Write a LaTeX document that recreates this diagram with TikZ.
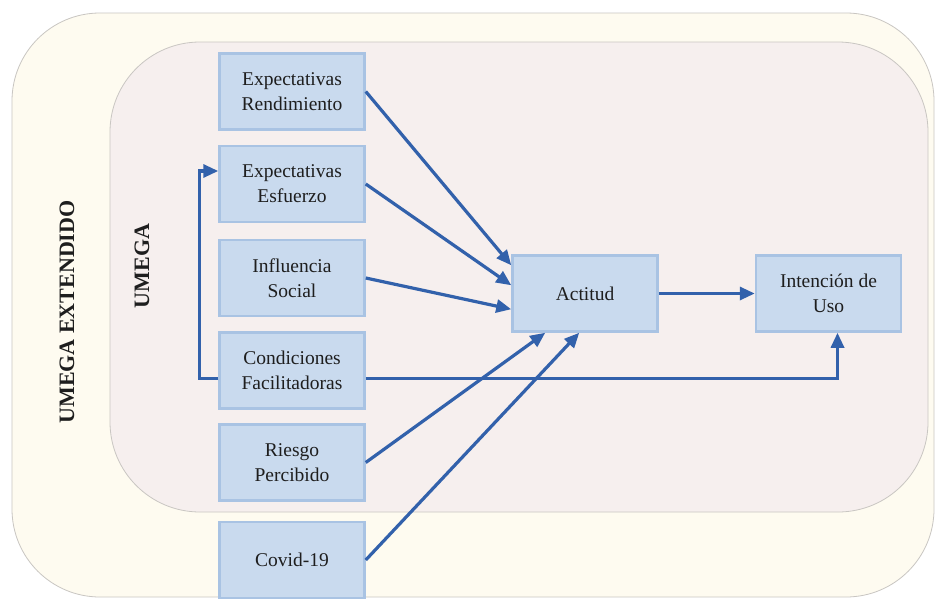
\documentclass[tikz,border=0pt]{standalone}
\usepackage{fontspec}
\setmainfont{Liberation Serif}
\usetikzlibrary{arrows.meta,calc}
\definecolor{outerfill}{HTML}{FEFBF0}
\definecolor{innerfill}{HTML}{F6EFEE}
\definecolor{frame}{HTML}{C9C6C2}
\definecolor{boxfill}{HTML}{C9DAEE}
\definecolor{boxline}{HTML}{A9C3E3}
\definecolor{arrowblue}{HTML}{3261AB}
\definecolor{txt}{HTML}{1E1E1E}
\tikzset{
  varbox/.style={draw=boxline, line width=2.5pt, fill=boxfill, text=txt,
    font=\fontsize{19.5}{25}\selectfont, align=center, inner sep=0pt,
    minimum width=145pt, minimum height=76pt},
  conn/.style={draw=arrowblue, line width=3.2pt,
    -{Triangle[length=15pt,width=13pt]}},
  region/.style={draw=frame, line width=0.8pt},
  biglabel/.style={font=\bfseries\fontsize{22}{26}\selectfont, text=txt, rotate=90}
}
\begin{document}
\begin{tikzpicture}[x=1pt,y=-1pt]
\useasboundingbox (0,0) rectangle (939,605);
\fill[white] (0,0) rectangle (939,605);
% regions
\draw[region, fill=outerfill, rounded corners=88pt] (12,13) rectangle (934,597);
\draw[region, fill=innerfill, rounded corners=90pt] (110,42) rectangle (928,512);
\node[biglabel] (ext) at (67,312) {UMEGA EXTENDIDO};
\node[biglabel] (ume) at (142,266) {UMEGA};
% boxes
\node[varbox] (ren) at (292,91.5) {Expectativas\\Rendimiento};
\node[varbox] (esf) at (292,184) {Expectativas\\Esfuerzo};
\node[varbox] (inf) at (292,278) {Influencia\\Social};
\node[varbox] (con) at (292,370.5) {Condiciones\\Facilitadoras};
\node[varbox] (rie) at (292,462.5) {Riesgo\\Percibido};
\node[varbox] (cov) at (292,560) {Covid-19};
\node[varbox] (act) at (585,293.5) {Actitud};
\node[varbox] (int) at (828.5,293.5) {Intención de\\Uso};
% connectors
\draw[conn] (ren.east) -- ($(act.north west)+(0,11)$);
\draw[conn] (esf.east) -- ($(act.north west)+(0,31)$);
\draw[conn] (inf.east) -- ($(act.north west)+(0,55)$);
\draw[conn] (rie.east) -- ($(act.south west)+(34,0)$);
\draw[conn] (cov.east) -- ($(act.south west)+(68,0)$);
\draw[conn] (act.east) -- (int.west);
\draw[conn] ($(con.east)+(0,8)$) -| ($(int.south)+(9,0)$);
\draw[conn] ($(con.west)+(0,8)$) -- ++(-19,0) |- ($(esf.west)+(0,-13)$);
\end{tikzpicture}
\end{document}
